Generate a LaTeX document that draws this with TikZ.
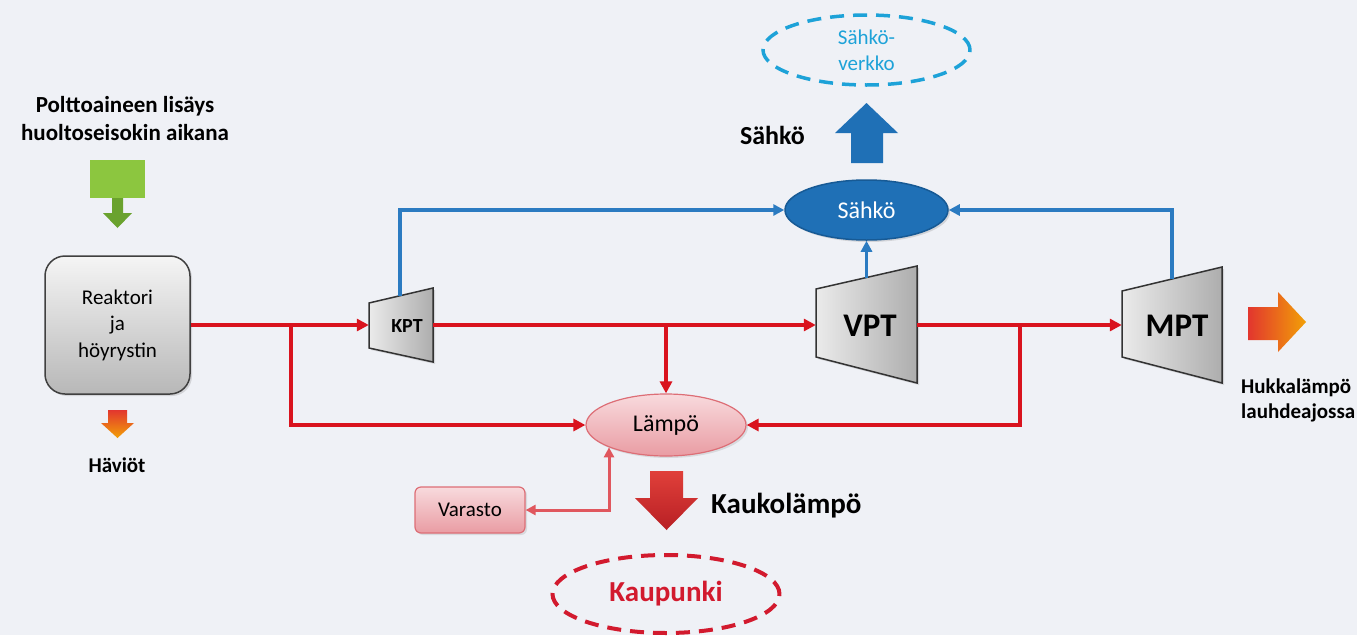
\documentclass[tikz,border=0pt]{standalone}
\usepackage{fontspec}
\setmainfont{Carlito}
\usetikzlibrary{shapes.geometric,arrows.meta,shadows}
\definecolor{bg}{HTML}{EFF1F6}
\definecolor{redl}{HTML}{D9131E}
\definecolor{bluel}{HTML}{2B7BC1}
\definecolor{sahko}{HTML}{1F70B6}
\definecolor{sahkob}{HTML}{175A95}
\definecolor{verkko}{HTML}{1DA2D8}
\definecolor{kaup}{HTML}{D21A2E}
\definecolor{pinkA}{HTML}{F8DADD}
\definecolor{pinkB}{HTML}{E99CA3}
\definecolor{pinkD}{HTML}{DD6E76}
\definecolor{varl}{HTML}{E0575E}
\definecolor{greenA}{HTML}{8CC63F}
\definecolor{greenB}{HTML}{6AA22E}
\definecolor{fatred}{HTML}{E0403A}
\definecolor{fatredB}{HTML}{B81F24}
\definecolor{orangeA}{HTML}{F2A007}
\definecolor{redA}{HTML}{E2362E}
\tikzset{
  txt/.style={inner sep=0pt, align=center},
  redarrow/.style={draw=redl, line width=4pt, -{Triangle[length=12pt,width=12pt]}},
  bluearrow/.style={draw=bluel, line width=3.3pt, -{Triangle[length=11pt,width=11pt]}},
  varline/.style={draw=varl, line width=3pt, {Triangle[length=10pt,width=10pt]}-{Triangle[length=10pt,width=10pt]}},
  turbine/.style={draw=black!80, line width=1.5pt, left color=black!8, right color=black!32,
     drop shadow={opacity=0.25, shadow xshift=2pt, shadow yshift=-2pt}},
  anchorbox/.style={inner sep=0pt, minimum height=45pt},
  reactorbox/.style={draw=black!75, line width=1.5pt, rounded corners=20pt, top color=black!4, bottom color=black!28,
     minimum width=145pt, minimum height=138pt, align=center,
     drop shadow={opacity=0.25, shadow xshift=2pt, shadow yshift=-2pt}},
  heatell/.style={ellipse, draw=pinkD, line width=1.2pt, top color=pinkA, bottom color=pinkB, inner sep=0pt,
     drop shadow={opacity=0.2, shadow xshift=2pt, shadow yshift=-2pt}},
  elell/.style={ellipse, draw=sahkob, line width=1.5pt, fill=sahko, inner sep=0pt, text=white,
     drop shadow={opacity=0.25, shadow xshift=2pt, shadow yshift=-2pt}},
  dashell/.style={ellipse, line width=3.5pt, dash pattern=on 14pt off 9pt, inner sep=0pt, align=center}
}
\begin{document}
\begin{tikzpicture}[x=1pt,y=-1pt]
\fill[bg] (0,0) rectangle (1357,635);
\useasboundingbox (0,0) rectangle (1357,635);

% fuel input
\node[txt, font=\fontsize{23}{28}\selectfont\bfseries] (fuel) at (125,119) {Polttoaineen lisäys\\huoltoseisokin aikana};
\fill[greenA] (90,160) rectangle (145,198);
\fill[greenB] (112,198) -- (123,198) -- (123,213) -- (132,213) -- (117.5,228) -- (103,213) -- (112,213) -- cycle;

% reactor
\node[reactorbox, font=\fontsize{21}{26.5}\selectfont] (reak) at (117.5,325) {Reaktori\\ja\\höyrystin};

% losses
\shade[top color=redA, bottom color=orangeA] (108,410) -- (127,410) -- (127,423) -- (134,423) -- (117.5,438) -- (101,423) -- (108,423) -- cycle;
\node[txt, font=\fontsize{21}{25}\selectfont\bfseries] (haviot) at (117,465) {Häviöt};

% turbines
\path[turbine] (369,303) -- (433,288) -- (433,362) -- (369,348) -- cycle;
\path[turbine] (816,289) -- (917,266) -- (917,383) -- (816,357) -- cycle;
\path[turbine] (1122,291) -- (1222,267) -- (1222,383) -- (1122,357) -- cycle;
\node[anchorbox, minimum width=64pt] (kpt) at (401,325) {};
\node[anchorbox, minimum width=101pt] (vpt) at (866.5,325) {};
\node[anchorbox, minimum width=100pt] (mpt) at (1172,325) {};
\node[txt, font=\fontsize{20}{24}\selectfont\bfseries] (kptl) at (407,326) {KPT};
\node[txt, font=\fontsize{33}{38}\selectfont\bfseries] (vptl) at (870,326) {VPT};
\node[txt, font=\fontsize{33}{38}\selectfont\bfseries] (mptl) at (1177,326) {MPT};
\coordinate (kpttop) at (400,296);
\coordinate (vpttop) at (866.5,278);
\coordinate (mpttop) at (1172,279);

% electricity
\node[elell, minimum width=163pt, minimum height=60pt, font=\fontsize{24}{28}\selectfont] (sahko) at (866.5,210) {Sähkö};
\fill[sahko] (851,163) -- (883,163) -- (883,133) -- (898,133) -- (866.5,103) -- (835,133) -- (851,133) -- cycle;
\node[txt, anchor=east, font=\fontsize{26}{30}\selectfont\bfseries] (sahkol) at (805,135) {Sähkö};
\node[dashell, draw=verkko, minimum width=207pt, minimum height=70pt, text=verkko, font=\fontsize{21}{26}\selectfont] (verkko) at (866.5,50) {Sähkö-\\verkko};

% heat
\node[heatell, minimum width=160pt, minimum height=62pt, font=\fontsize{24}{28}\selectfont] (lampo) at (666,425) {Lämpö};
\node[draw=pinkD, line width=1.2pt, rounded corners=6pt, top color=pinkA, bottom color=pinkB, minimum width=110pt, minimum height=46pt, inner sep=0pt,
   drop shadow={opacity=0.2, shadow xshift=2pt, shadow yshift=-2pt}, font=\fontsize{21}{25}\selectfont] (varasto) at (470,510) {Varasto};
\shade[top color=fatred, bottom color=fatredB] (650,471) -- (683,471) -- (683,498) -- (698,498) -- (666.5,530) -- (635,498) -- (650,498) -- cycle;
\node[txt, anchor=west, font=\fontsize{29}{34}\selectfont\bfseries] (kaukol) at (711,506) {Kaukolämpö};
\node[dashell, draw=kaup, line width=4pt, minimum width=227pt, minimum height=78pt, text=kaup, font=\fontsize{29}{34}\selectfont\bfseries] (kaupunki) at (666,594) {Kaupunki};

% waste heat
\shade[left color=redA, right color=orangeA] (1248,307) -- (1278,307) -- (1278,292) -- (1306,322) -- (1278,352) -- (1278,340) -- (1248,340) -- cycle;
\node[txt, anchor=west, align=left, font=\fontsize{21}{25}\selectfont\bfseries] (hukka) at (1241,400) {Hukkalämpö\\lauhdeajossa};

% junctions
\coordinate (j1) at (291,325);
\coordinate (j2) at (666,325);
\coordinate (j3) at (1020,325);

% connectors
\draw[redarrow] (reak.east) -- (kpt.west);
\draw[redarrow] (j1) |- (lampo.west);
\draw[redarrow] (kpt.east) -- (vpt.west);
\draw[redarrow] (j2) -- (lampo.north);
\draw[redarrow] (vpt.east) -- (mpt.west);
\draw[redarrow] (j3) |- (lampo.east);
\draw[bluearrow] (kpttop) |- (sahko.west);
\draw[bluearrow] (vpttop) -- (sahko.south);
\draw[bluearrow] (mpttop) |- (sahko.east);
\draw[varline] (varasto.east) -| (lampo.south west);
\end{tikzpicture}
\end{document}
